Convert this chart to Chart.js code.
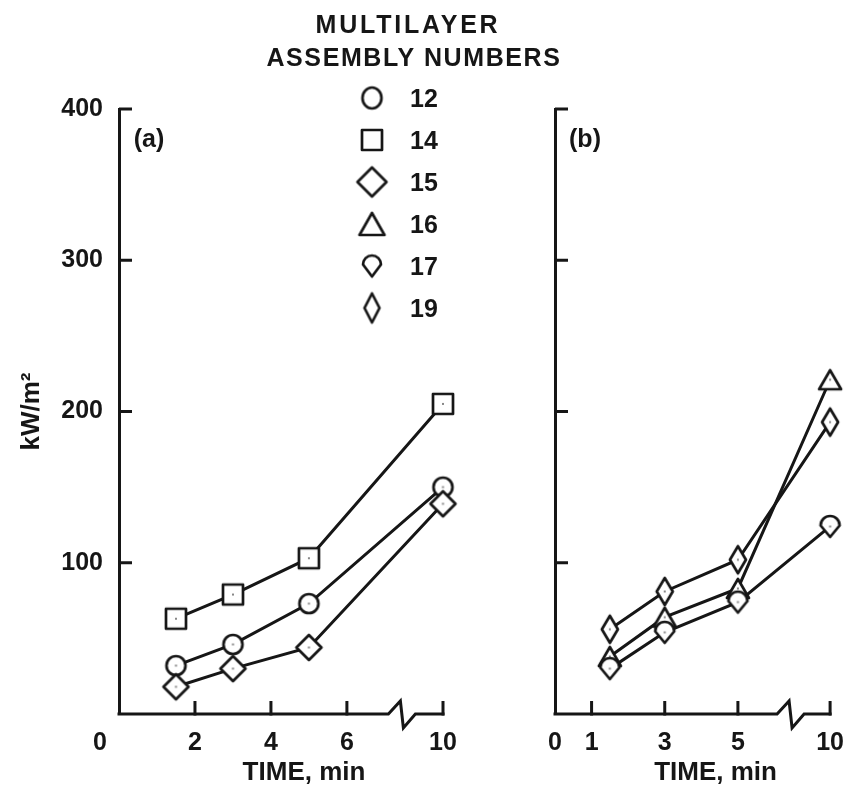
<!DOCTYPE html>
<html>
<head>
<meta charset="utf-8">
<title>Multilayer assemblies</title>
<script src="https://cdn.jsdelivr.net/npm/chart.js@4.4.1/dist/chart.umd.min.js"></script>
<style>
  html, body { margin: 0; padding: 0; background: #fff; }
  #wrap {
    position: relative; width: 858px; height: 791px; overflow: hidden;
    font-family: "Liberation Sans", Arial, sans-serif; font-weight: bold; color: #161616;
  }
  #wrap canvas.panel { position: absolute; top: 0; }
  .heading, .key-label {
    position: absolute; font-size: 25px; line-height: 25px; white-space: nowrap;
  }
  .heading { transform: translate(-50%, -50%); }
  .key-label { transform: translateY(-50%); }
  .key-mark { position: absolute; transform: translate(-50%, -50%); }
</style>
</head>
<body>
<div id="wrap">
  <canvas id="panelA" class="panel" width="500" height="791" style="left:0"></canvas>
  <canvas id="panelB" class="panel" width="358" height="791" style="left:500px"></canvas>
  <div class="heading" style="left:408px; top:24px; letter-spacing:2.8px">MULTILAYER</div>
  <div class="heading" style="left:414px; top:57px; letter-spacing:1.6px">ASSEMBLY NUMBERS</div>
</div>
<script>
// heat flux (kW/m2) against time (min) for each multilayer assembly
const timeA = [1.5, 3, 5, 10];
const asm12 = [32, 46, 73, 150];
const asm14 = [63, 79, 103, 205];
const asm15 = [18, 30, 44, 139];

const timeB = [1.5, 3, 5, 10];
const asm16 = [38, 64, 83, 221];
const asm17 = [30, 54, 74, 124];
const asm19 = [56, 81, 102, 193];

const yTicks = [0, 100, 200, 300, 400];
const xTicksA = [2, 4, 6, 10];
const xTicksB = [0, 1, 3, 5, 10];
const assemblies = ["12", "14", "15", "16", "17", "19"];

const INK = "#161616";
const FONT = '"Liberation Sans", Arial, sans-serif';

Chart.defaults.font.family = FONT;
Chart.defaults.font.weight = "bold";
Chart.defaults.font.size = 25;
Chart.defaults.color = INK;

// open symbols with a small centre dot, used as point styles and in the key
function marker(shape, w, h, dot) {
    const c = document.createElement("canvas");
    c.width = w + 6;
    c.height = h + 6;
    const g = c.getContext("2d");
    const cx = c.width / 2, cy = c.height / 2, rx = w / 2, ry = h / 2;
    g.beginPath();
    if (shape === "circle") {
        g.ellipse(cx, cy, rx, ry, 0, 0, Math.PI * 2);
    } else if (shape === "square") {
        g.rect(cx - rx, cy - ry, w, h);
    } else if (shape === "diamond") {
        g.moveTo(cx, cy - ry); g.lineTo(cx + rx, cy); g.lineTo(cx, cy + ry); g.lineTo(cx - rx, cy);
        g.closePath();
    } else if (shape === "triangle") {
        g.moveTo(cx, cy - ry); g.lineTo(cx + rx, cy + ry); g.lineTo(cx - rx, cy + ry);
        g.closePath();
    } else if (shape === "drop") {
        g.arc(cx, cy - ry + rx, rx, Math.PI, 0);
        g.lineTo(cx, cy + ry);
        g.closePath();
    }
    g.fillStyle = "#fff";
    g.fill();
    g.lineWidth = 2.7;
    g.lineJoin = "round";
    g.strokeStyle = INK;
    g.stroke();
    if (dot) {
        g.fillStyle = "#888";
        g.fillRect(cx - 1, cy - 1, 2, 2);
    }
    return c;
}

const pointMarks = {
    "12": marker("circle", 19, 19, true),
    "14": marker("square", 20, 20, true),
    "15": marker("diamond", 25, 25, true),
    "16": marker("triangle", 22, 19, true),
    "17": marker("drop", 19, 21, true),
    "19": marker("diamond", 16, 27, true)
};
const keyMarks = {
    "12": marker("circle", 19, 21, false),
    "14": marker("square", 20, 20, false),
    "15": marker("diamond", 29, 29, false),
    "16": marker("triangle", 25, 22, false),
    "17": marker("drop", 18, 21, false),
    "19": marker("diamond", 15, 29, false)
};

// key below the heading
const wrap = document.getElementById("wrap");
assemblies.forEach((name, i) => {
    const rowY = 98 + i * 42;
    const mark = keyMarks[name];
    mark.className = "key-mark";
    mark.style.left = "372px";
    mark.style.top = rowY + "px";
    wrap.appendChild(mark);

    const label = document.createElement("div");
    label.className = "key-label";
    label.style.left = "410px";
    label.style.top = rowY + "px";
    label.textContent = name;
    wrap.appendChild(label);
});

// the time axis is broken before 10 min, so 10 sits closer than a linear scale would put it
function squeezer(cut, tenAt) {
    return t => (t <= cut ? t : cut + (t - cut) * (tenAt - cut) / (10 - cut));
}

// inward ticks, the broken time axis and the panel texts
const framePlugin = {
    id: "frame",
    afterDraw(chart, args, o) {
        const { ctx, chartArea: a, scales: { x, y } } = chart;
        ctx.save();
        ctx.strokeStyle = INK;
        ctx.lineWidth = 3;

        ctx.beginPath();
        yTicks.filter(v => v > 0).forEach(v => {
            const py = y.getPixelForValue(v);
            ctx.moveTo(a.left, py);
            ctx.lineTo(a.left + 13, py);
        });
        o.xTicks.filter(v => v > 0).forEach(v => {
            const px = x.getPixelForValue(o.squeeze(v));
            ctx.moveTo(px, a.bottom + 1.5);
            ctx.lineTo(px, a.bottom - 13);
        });
        ctx.stroke();

        const bx = x.getPixelForValue(o.squeeze(o.breakAt));
        const y0 = a.bottom;
        ctx.beginPath();
        ctx.moveTo(a.left - 1.5, y0);
        ctx.lineTo(bx - 12, y0);
        ctx.lineTo(bx, y0 - 13);
        ctx.lineTo(bx + 3, y0 + 14);
        ctx.lineTo(bx + 15, y0);
        ctx.lineTo(a.right + 1.5, y0);
        ctx.stroke();

        ctx.fillStyle = INK;
        ctx.textAlign = "center";
        ctx.textBaseline = "middle";
        ctx.font = "bold 25px " + FONT;
        ctx.fillText(o.letter, a.left + 30, a.top + 31);
        if (o.zero) ctx.fillText("0", a.left - 19, 743);
        ctx.font = "bold 26px " + FONT;
        ctx.fillText("TIME, min", (a.left + a.right) / 2 + 23, 773);
        ctx.restore();
    }
};

function makePanel(id, p) {
    return new Chart(document.getElementById(id), {
        type: "line",
        data: {
            datasets: p.series.map(s => ({
                label: s.name,
                data: p.time.map((t, i) => ({ x: p.squeeze(t), y: s.values[i] })),
                borderColor: INK,
                borderWidth: 3,
                pointStyle: pointMarks[s.name],
                tension: 0,
                clip: false
            }))
        },
        options: {
            responsive: false,
            animation: false,
            events: [],
            layout: { padding: { top: 109, right: p.padRight, left: 0, bottom: 0 } },
            plugins: {
                legend: { display: false },
                tooltip: { enabled: false },
                frame: { xTicks: p.xTicks, squeeze: p.squeeze, breakAt: p.breakAt, letter: p.letter, zero: p.zero }
            },
            scales: {
                x: {
                    type: "linear",
                    min: 0,
                    max: p.squeeze(10),
                    grid: { display: false, drawTicks: false },
                    border: { display: false },
                    afterBuildTicks: sc => { sc.ticks = p.xTicks.map(v => ({ value: p.squeeze(v) })); },
                    ticks: {
                        callback: (v, i) => p.xTicks[i],
                        autoSkip: false,
                        maxRotation: 0,
                        padding: 14,
                        font: { size: 25 }
                    },
                    afterFit: sc => { sc.height = 77; }
                },
                y: {
                    min: 0,
                    max: 400,
                    grid: { display: false, drawTicks: false },
                    border: { display: true, width: 3, color: INK },
                    afterBuildTicks: sc => { sc.ticks = yTicks.map(v => ({ value: v })); },
                    ticks: {
                        display: p.yLabels,
                        callback: v => (v === 0 ? "" : v),
                        padding: 16,
                        font: { size: 25 }
                    },
                    title: {
                        display: p.yLabels,
                        text: "kW/m²",
                        font: { size: 26 },
                        padding: { top: 16, bottom: 0 }
                    },
                    afterFit: sc => { sc.width = p.yWidth; }
                }
            }
        },
        plugins: [framePlugin]
    });
}

makePanel("panelA", {
    time: timeA,
    series: [
        { name: "15", values: asm15 },
        { name: "12", values: asm12 },
        { name: "14", values: asm14 }
    ],
    squeeze: squeezer(7, 8.53),
    xTicks: xTicksA,
    breakAt: 7.8,
    letter: "(a)",
    zero: true,
    yLabels: true,
    yWidth: 119,
    padRight: 57
});

makePanel("panelB", {
    time: timeB,
    series: [
        { name: "17", values: asm17 },
        { name: "16", values: asm16 },
        { name: "19", values: asm19 }
    ],
    squeeze: squeezer(6, 7.52),
    xTicks: xTicksB,
    breakAt: 7.05,
    letter: "(b)",
    zero: false,
    yLabels: false,
    yWidth: 55,
    padRight: 21
});
</script>
</body>
</html>
